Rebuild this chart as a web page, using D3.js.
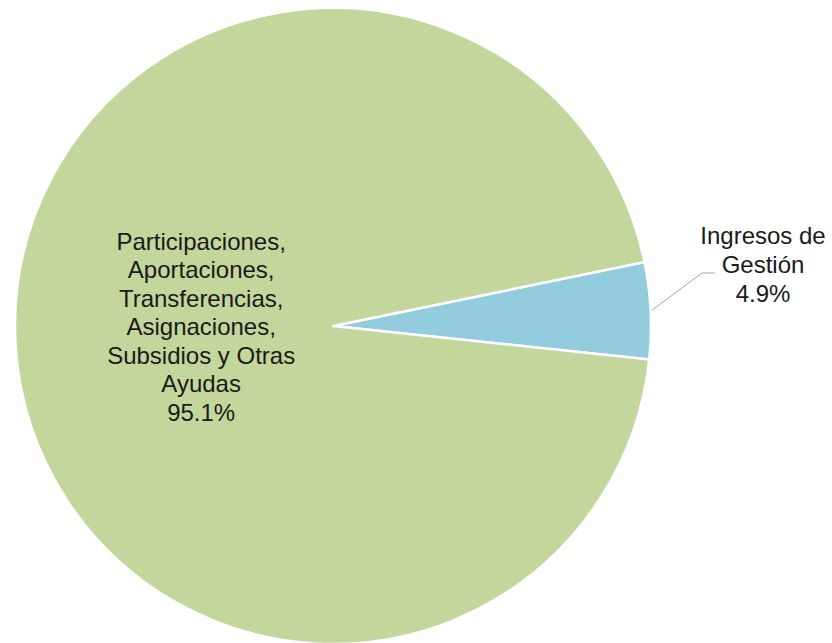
<!DOCTYPE html>
<html lang="es">
<head>
<meta charset="utf-8">
<title>Ingresos</title>
<script src="https://d3js.org/d3.v7.min.js"></script>
<style>
  body { margin: 0; background: #fff; }
  text { font-family: "Liberation Sans", Arial, sans-serif; }
</style>
</head>
<body>
<script>
// data
var categories = ["Ingresos de Gestión", "Participaciones, Aportaciones, Transferencias, Asignaciones, Subsidios y Otras Ayudas"];
var values = [4.9, 95.1];
var labelLines = [
  ["Ingresos de", "Gestión"],
  ["Participaciones,", "Aportaciones,", "Transferencias,", "Asignaciones,", "Subsidios y Otras", "Ayudas"]
];
var colors = ["#93cddd", "#c3d69b"];

var width = 832, height = 643;
var cx = 333, cy = 326, radius = 318;

var svg = d3.select("body").append("svg")
    .attr("width", width)
    .attr("height", height);

var g = svg.append("g")
    .attr("transform", "translate(" + cx + "," + cy + ")");

// pie starts at the top edge of the small slice
var start = 78.4 * Math.PI / 180;
var pie = d3.pie().sort(null).value(function (d) { return d; })
    .startAngle(start).endAngle(start + 2 * Math.PI);
var arcs = pie(values);

var arc = d3.arc().innerRadius(0).outerRadius(radius);
var fmt = d3.format(".1f");

g.selectAll("path.slice")
  .data(arcs)
  .enter().append("path")
    .attr("class", "slice")
    .attr("d", arc)
    .attr("fill", function (d, i) { return colors[i]; })
    .attr("stroke", "#fff")
    .attr("stroke-width", 2.5)
    .attr("stroke-linejoin", "round");

// inside label for big slice
var lineH = 28.5;
var inArc = d3.arc().innerRadius(132).outerRadius(132);
var bigC = inArc.centroid(arcs[1]);
var bigLines = labelLines[1].concat([fmt(values[1]) + "%"]);
g.append("text")
    .attr("text-anchor", "middle")
    .attr("font-size", 24)
    .attr("fill", "#1a1a1a")
    .selectAll("tspan")
    .data(bigLines)
    .enter().append("tspan")
      .attr("x", bigC[0])
      .attr("y", function (d, i) { return bigC[1] - 4 + (i - (bigLines.length - 1) / 2) * lineH + 7; })
      .text(function (d) { return d; });

// outside label with leader line for small slice
var a = arcs[0];
var mid = (a.startAngle + a.endAngle) / 2;
var p0 = [Math.sin(mid) * (radius + 1), -Math.cos(mid) * (radius + 1)];
var elbow = [369, -53];
var p2 = [382, -53];
g.append("polyline")
    .attr("points", [p0, elbow, p2].map(function (p) { return p.join(","); }).join(" "))
    .attr("fill", "none")
    .attr("stroke", "#a6a6a6")
    .attr("stroke-width", 1);

var smallLines = labelLines[0].concat([fmt(values[0]) + "%"]);
g.append("text")
    .attr("text-anchor", "middle")
    .attr("font-size", 24)
    .attr("fill", "#1a1a1a")
    .selectAll("tspan")
    .data(smallLines)
    .enter().append("tspan")
      .attr("x", 430)
      .attr("y", function (d, i) { return -82 + i * 29; })
      .text(function (d) { return d; });
</script>
</body>
</html>
